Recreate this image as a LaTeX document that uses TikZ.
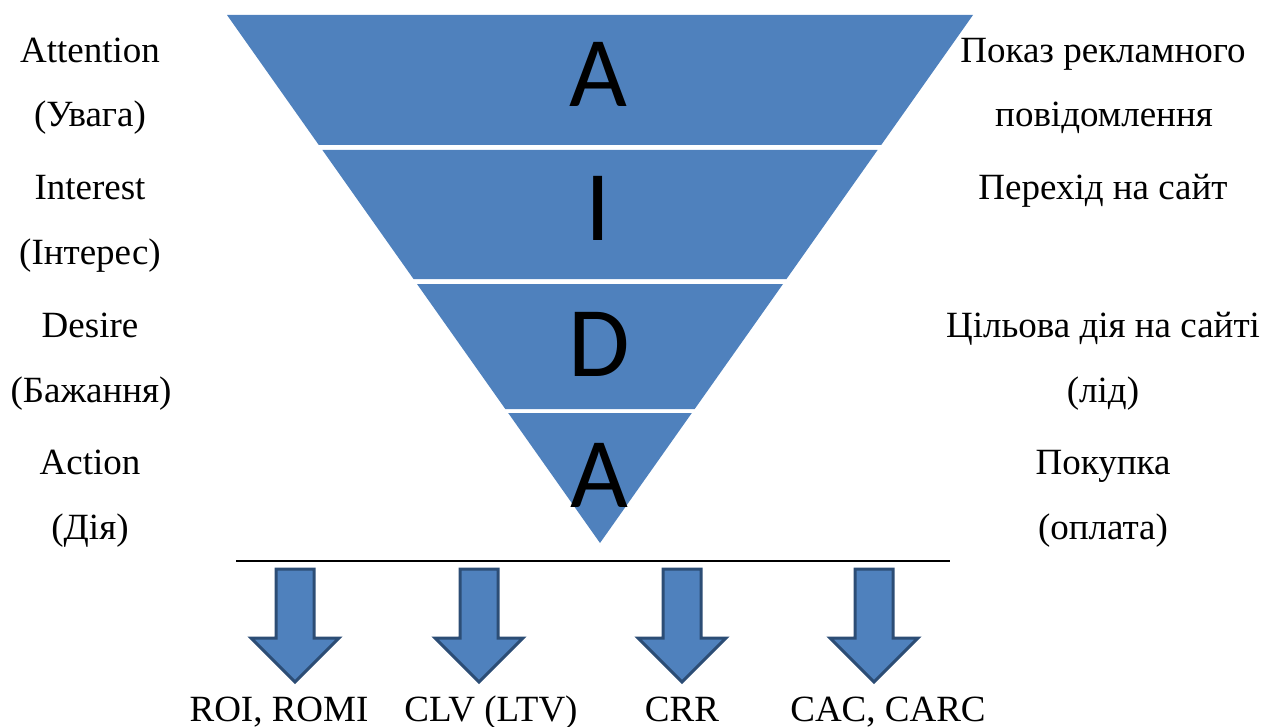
\documentclass[tikz,border=0pt]{standalone}
\usepackage{fontspec}
\setmainfont{Liberation Serif}
\newfontfamily\lettfont{Carlito}
\definecolor{fillblue}{HTML}{4F81BD}
\definecolor{edgeblue}{HTML}{2C4D75}
\begin{document}
\begin{tikzpicture}[x=1pt,y=-1pt,
  band/.style={fill=fillblue,draw=none},
  letter/.style={anchor=base,inner sep=0pt,font=\lettfont\fontsize{100}{100}\selectfont},
  lbl/.style={anchor=base,inner sep=0pt,font=\fontsize{37}{37}\selectfont},
  arrowbox/.style={fill=fillblue,draw=edgeblue,line width=3pt,line join=miter},
  downarrow/.pic={\path[arrowbox] (-19,0) -- (19,0) -- (19,69) -- (44,69) -- (0,113) -- (-44,69) -- (-19,69) -- cycle;}
]
\useasboundingbox (0,0) rectangle (1268,727);
% funnel bands
\path[band] (227,15) -- (973,15) -- (881.2,145) -- (318.8,145) -- cycle;
\path[band] (322.4,150) -- (877.6,150) -- (786.5,279) -- (413.5,279) -- cycle;
\path[band] (417,284) -- (783,284) -- (694.7,409) -- (505.3,409) -- cycle;
\path[band] (508.2,413) -- (691.8,413) -- (600,543) -- cycle;
% letters
\node[letter] (l1) at (598.5,107) {A};
\node[letter] (l2) at (598,241) {I};
\node[letter] (l3) at (599,376) {D};
\node[letter] (l4) at (599,507) {A};
% left labels
\node[lbl] (a1) at (90,63) {Attention};
\node[lbl] (a2) at (90,127) {(Увага)};
\node[lbl] (i1) at (90,200) {Interest};
\node[lbl] (i2) at (90,265) {(Інтерес)};
\node[lbl] (d1) at (90,337) {Desire};
\node[lbl] (d2) at (91,402) {(Бажання)};
\node[lbl] (c1) at (90,474) {Action};
\node[lbl] (c2) at (90,539) {(Дія)};
% right labels
\node[lbl] (r1) at (1103,63) {Показ рекламного};
\node[lbl] (r2) at (1104,127) {повідомлення};
\node[lbl] (r3) at (1103,200) {Перехід на сайт};
\node[lbl] (r4) at (1103,337) {Цільова дія на сайті};
\node[lbl] (r5) at (1103,402) {(лід)};
\node[lbl] (r6) at (1103,474) {Покупка};
\node[lbl] (r7) at (1103,539) {(оплата)};
% line
\coordinate (ls) at (236,561);
\coordinate (le) at (950,561);
\draw[line width=1.5pt] (ls) -- (le);
% arrows
\pic at (295,569) {downarrow};
\pic at (479,569) {downarrow};
\pic at (682,569) {downarrow};
\pic at (874,569) {downarrow};
% bottom labels
\node[lbl] (m1) at (279,721) {ROI, ROMI};
\node[lbl] (m2) at (491,721) {CLV (LTV)};
\node[lbl] (m3) at (682,721) {CRR};
\node[lbl] (m4) at (888,721) {CAC, CARC};
\end{tikzpicture}
\end{document}
